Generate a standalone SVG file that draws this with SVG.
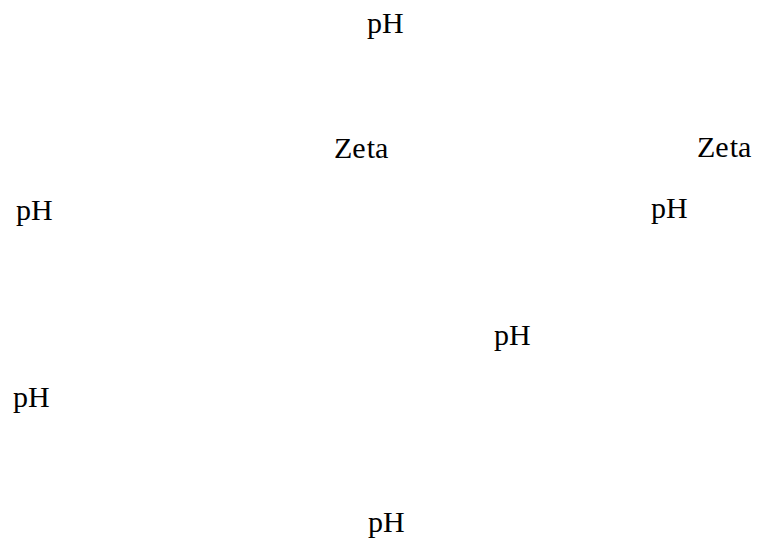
<svg xmlns="http://www.w3.org/2000/svg" width="760" height="547" viewBox="0 0 760 547">
<style>
.t{font-family:"Liberation Serif","Times New Roman",serif;font-size:30px;fill:#000}
</style>
<rect width="760" height="547" fill="#fff"/>
<g id="labels">
<g id="n1"><text class="t" x="367" y="33">pH</text></g>
<g id="n2"><text class="t" x="334" y="157.5">Ze<tspan dx="1">ta</tspan></text></g>
<g id="n3"><text class="t" x="697" y="157">Ze<tspan dx="1">ta</tspan></text></g>
<g id="n4"><text class="t" x="16" y="220">pH</text></g>
<g id="n5"><text class="t" x="651" y="218">pH</text></g>
<g id="n6"><text class="t" x="494" y="345">pH</text></g>
<g id="n7"><text class="t" x="13" y="407">pH</text></g>
<g id="n8"><text class="t" x="368" y="532">pH</text></g>
</g>
<g id="connectors"></g>
</svg>
